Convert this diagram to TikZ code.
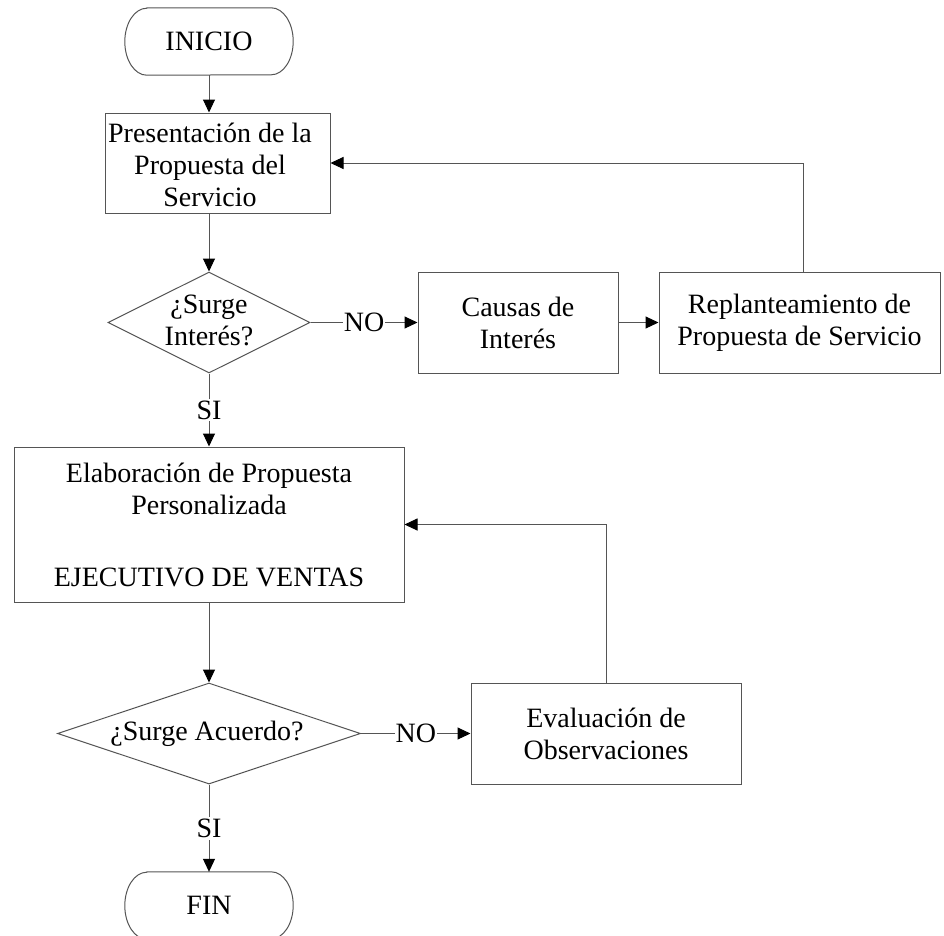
\documentclass[tikz,border=0pt]{standalone}
\usepackage{fontspec}
\setmainfont{Liberation Serif}
\usetikzlibrary{shapes.geometric,arrows.meta}
\definecolor{edgegray}{HTML}{555555}
\begin{document}
\begin{tikzpicture}[x=1pt,y=-1pt,
  every node/.style={font=\fontsize{28}{32}\selectfont, inner sep=0pt, align=center},
  line/.style={draw=edgegray, line width=1pt},
  arr/.style={line, -{Triangle[length=13pt,width=12pt,color=black]}},
  box/.style={rectangle, line},
  decision/.style={diamond, line},
  termbox/.style={rectangle, minimum width=168pt, minimum height=67pt},
  lbl/.style={fill=white, inner xsep=1pt, inner ysep=2pt}]

% page frame
\fill[white] (0,0) rectangle (944,935);
\useasboundingbox (0,0) rectangle (944,935);
\clip (0,0) rectangle (944,935);

% start / end terminals
\node[termbox] (inicio) at (209,41.5) {INICIO};
\draw[line] ([xshift=22pt]inicio.north west) -- ([xshift=-22pt]inicio.north east)
  arc[start angle=-90, end angle=90, x radius=22, y radius=33.5]
  -- ([xshift=22pt]inicio.south west)
  arc[start angle=90, end angle=270, x radius=22, y radius=33.5] -- cycle;

\node[termbox] (fin) at (209,905.5) {FIN};
\draw[line] ([xshift=22pt]fin.north west) -- ([xshift=-22pt]fin.north east)
  arc[start angle=-90, end angle=90, x radius=22, y radius=33.5]
  -- ([xshift=22pt]fin.south west)
  arc[start angle=90, end angle=270, x radius=22, y radius=33.5] -- cycle;

% process steps
\node[box, minimum width=225pt, minimum height=100pt] (pres) at (217.5,163) {};
\node (prestext) at (210,165) {Presentación de la\\Propuesta del\\Servicio};

\node[decision, minimum width=202pt, minimum height=101pt] (d1) at (209,322.5) {};
\node (d1text) at (209,320) {¿Surge\\Interés?};

\node[box, minimum width=200pt, minimum height=101pt] (causas) at (518,322.5) {Causas de\\Interés};
\node[box, minimum width=281pt, minimum height=101pt] (repl) at (799.5,322.5) {Replanteamiento de\\Propuesta de Servicio};

\node[box, minimum width=390pt, minimum height=155pt] (elab) at (209,524.5)
  {Elaboración de Propuesta\\Personalizada\\[40pt]EJECUTIVO DE VENTAS};

\node[decision, minimum width=303pt, minimum height=101pt] (d2) at (209,733.5) {};
\node (d2text) at (207,733.5) {¿Surge Acuerdo?};

\node[box, minimum width=270pt, minimum height=101pt] (eval) at (606,733.5) {Evaluación de\\Observaciones};

% connectors
\draw[arr] (inicio.south) -- (inicio.south |- pres.north);
\draw[arr] (d1.north |- pres.south) -- (d1.north);
\draw[arr] (d1.east) -- node[lbl] (no1) {NO} (causas.west);
\draw[arr] (causas.east) -- (repl.west);
\coordinate (fb1) at (803,163);
\draw[arr] (repl.north -| fb1) -- (fb1) -- (pres.east);
\draw[arr] (d1.south) -- node[lbl] (si1) {SI} (elab.north);
\draw[arr] (elab.south) -- (d2.north);
\draw[arr] (d2.east) -- node[lbl] (no2) {NO} (eval.west);
\draw[arr] (eval.north) |- (elab.east);
\draw[arr] (d2.south) -- node[lbl] (si2) {SI} (fin.north);
\end{tikzpicture}
\end{document}
